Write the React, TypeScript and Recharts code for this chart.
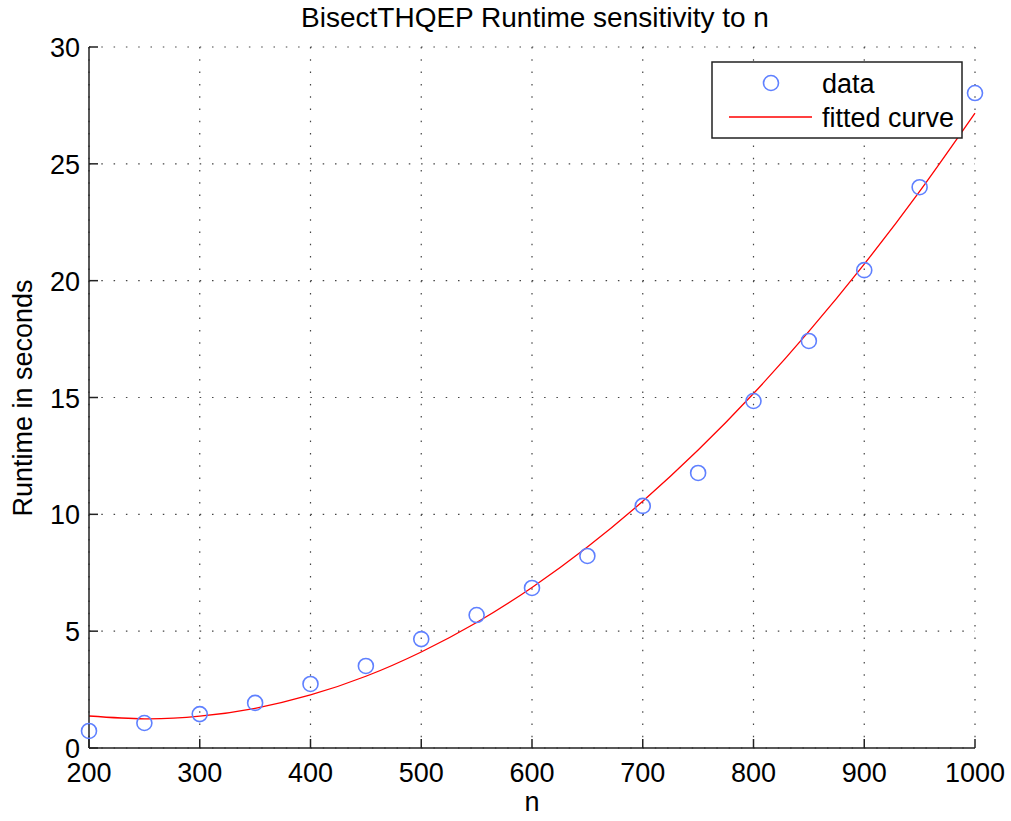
import React from 'react';
import { ComposedChart, XAxis, YAxis, CartesianGrid, Line, Scatter } from 'recharts';

const nValues = [200, 250, 300, 350, 400, 450, 500, 550, 600, 650, 700, 750, 800, 850, 900, 950, 1000];
const runtimeData = [0.73, 1.07, 1.45, 1.93, 2.74, 3.51, 4.66, 5.69, 6.85, 8.22, 10.36, 11.77, 14.85, 17.42, 20.45, 24.0, 28.03];
const fittedCurve = [1.37, 1.25, 1.36, 1.7, 2.27, 3.07, 4.11, 5.37, 6.87, 8.6, 10.56, 12.75, 15.17, 17.83, 20.71, 23.82, 27.17];
const xTicks = [200, 300, 400, 500, 600, 700, 800, 900, 1000];
const yTicks = [0, 5, 10, 15, 20, 25, 30];

const rows = nValues.map((n, i) => ({ n, runtime: runtimeData[i], fit: fittedCurve[i] }));

const FONT = '"Liberation Sans", Arial, Helvetica, sans-serif';
const AXIS = '#222';
const TICK_LEN = 9;
const DOT_BLUE = '#5f80ff';

const BottomTick = (p: any) => (
  <g>
    <line x1={p.x} y1={p.y} x2={p.x} y2={p.y - TICK_LEN} stroke={AXIS} strokeWidth={1.5} />
    <text x={p.x} y={p.y + 34} textAnchor="middle" fontFamily={FONT} fontSize={27} fill="#000">
      {p.payload.value}
    </text>
  </g>
);
const TopTick = (p: any) => (
  <line x1={p.x} y1={p.y} x2={p.x} y2={p.y + TICK_LEN} stroke={AXIS} strokeWidth={1.5} />
);
const LeftTick = (p: any) => (
  <g>
    <line x1={p.x} y1={p.y} x2={p.x + TICK_LEN} y2={p.y} stroke={AXIS} strokeWidth={1.5} />
    <text x={p.x - 9} y={p.y + 10} textAnchor="end" fontFamily={FONT} fontSize={27} fill="#000">
      {p.payload.value}
    </text>
  </g>
);
const RightTick = (p: any) => (
  <line x1={p.x} y1={p.y} x2={p.x - TICK_LEN} y2={p.y} stroke={AXIS} strokeWidth={1.5} />
);

const CircleShape = (p: any) => (
  <circle cx={p.cx} cy={p.cy} r={7.5} fill="none" stroke={DOT_BLUE} strokeWidth={1.6} />
);

export default function App() {
  return (
    <div style={{ position: 'absolute', left: 0, top: 0, width: 1011, height: 821, background: '#fff' }}>
      <ComposedChart
        width={1011}
        height={821}
        data={rows}
        margin={{ top: 47, right: 36, bottom: 33, left: 29 }}
      >
        <CartesianGrid stroke="#444" strokeWidth={1.2} strokeDasharray="1.5 10.8" />
        <XAxis
          dataKey="n"
          type="number"
          domain={[200, 1000]}
          ticks={xTicks}
          interval={0}
          height={40}
          tickSize={0}
          tickMargin={0}
          tickLine={false}
          axisLine={{ stroke: AXIS, strokeWidth: 1.5 }}
          tick={BottomTick}
        />
        <XAxis
          xAxisId="top"
          orientation="top"
          dataKey="n"
          type="number"
          domain={[200, 1000]}
          ticks={xTicks}
          interval={0}
          height={0}
          tickSize={0}
          tickMargin={0}
          tickLine={false}
          axisLine={{ stroke: AXIS, strokeWidth: 1.5 }}
          tick={TopTick}
        />
        <YAxis
          type="number"
          domain={[0, 30]}
          ticks={yTicks}
          interval={0}
          width={60}
          tickSize={0}
          tickMargin={0}
          tickLine={false}
          axisLine={{ stroke: AXIS, strokeWidth: 1.5 }}
          tick={LeftTick}
        />
        <YAxis
          yAxisId="right"
          orientation="right"
          type="number"
          domain={[0, 30]}
          ticks={yTicks}
          interval={0}
          width={0}
          tickSize={0}
          tickMargin={0}
          tickLine={false}
          axisLine={{ stroke: AXIS, strokeWidth: 1.5 }}
          tick={RightTick}
        />
        <Line
          type="natural"
          dataKey="fit"
          stroke="#ff0000"
          strokeWidth={1.3}
          dot={false}
          isAnimationActive={false}
        />
        <Scatter dataKey="runtime" shape={CircleShape} isAnimationActive={false} />
      </ComposedChart>
      <svg
        width={1011}
        height={821}
        style={{ position: 'absolute', left: 0, top: 0, pointerEvents: 'none' }}
      >
        <text x={535} y={27} textAnchor="middle" fontFamily={FONT} fontSize={28} fill="#000">
          BisectTHQEP Runtime sensitivity to n
        </text>
        <text x={532} y={811} textAnchor="middle" fontFamily={FONT} fontSize={27} fill="#000">
          n
        </text>
        <text
          transform="translate(32,398) rotate(-90)"
          textAnchor="middle"
          fontFamily={FONT}
          fontSize={27}
          fill="#000"
        >
          Runtime in seconds
        </text>
        <rect x={712} y={62} width={250} height={76} fill="#fff" stroke={AXIS} strokeWidth={1.5} />
        <circle cx={771} cy={83} r={7.5} fill="none" stroke={DOT_BLUE} strokeWidth={1.6} />
        <text x={822} y={93} fontFamily={FONT} fontSize={27} fill="#000">data</text>
        <line x1={729} y1={117} x2={812} y2={117} stroke="#ff0000" strokeWidth={1.3} />
        <text x={822} y={127} fontFamily={FONT} fontSize={27} fill="#000">fitted curve</text>
      </svg>
    </div>
  );
}
